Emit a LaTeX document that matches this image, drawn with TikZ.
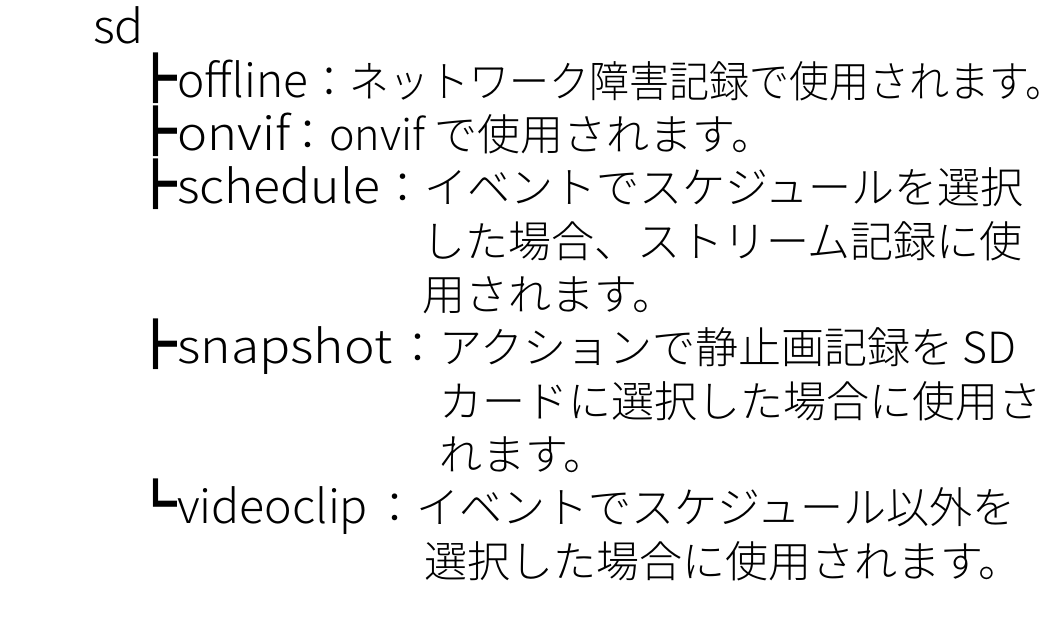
\documentclass[tikz,border=0pt]{standalone}
\usepackage{fontspec}
\usepackage{graphicx}
\usepackage{tikz}
\usetikzlibrary{positioning}
\newfontfamily\jfont{Noto Sans CJK JP}[UprightFont=* Light]
\newfontfamily\jboxfont{Noto Sans CJK JP}
\newcommand{\keyword}[2][1.1]{\scalebox{#1}[1.08]{#2}}
\newcommand{\branch}[1]{\scalebox{1}[1.18]{\jboxfont #1}}

\begin{document}
\begin{tikzpicture}[x=1pt,y=-1pt]
\tikzstyle{entry} =[anchor=base west,inner sep=0pt,font=\jfont\fontsize{43}{53}\selectfont]
\useasboundingbox (0,0) rectangle (1063,638);
\node[entry](sd) at (93,43) {\keyword[1.12]{sd}};

\node[entry](offline) at (134,97) {\branch{┣}\keyword[1.07]{offline}};
\node[entry](offlinetxt) at (309,97) {\scalebox{0.93}[1]{：ネットワーク障害記録で使用されます。}};

\node[entry](onvif) at (134,150) {\branch{┣}\keyword[1.18]{onvif}};
\node[entry](onviftxt) at (286,150) {：onvif で使用されます。};

\node[entry](schedule) at (134,203) {\branch{┣}\keyword[1.16]{schedule}};
\node[entry](scheduletxt) at (381,203) {：イベントでスケジュールを選択};
\node[entry](schedule2) at (422,257) {した場合、ストリーム記録に使};
\node[entry](schedule3) at (422,310) {用されます。};

\node[entry](snapshot) at (134,363) {\branch{┣}\keyword[1.2]{snapshot}};
\node[entry](snapshottxt) at (396,363) {：アクションで静止画記録を SD};
\node[entry](snapshot2) at (439,417) {カードに選択した場合に使用さ};
\node[entry](snapshot3) at (439,470) {れます。};

\node[entry](videoclip) at (134,523) {\branch{┗}\keyword[1.08]{videoclip}};
\node[entry](videocliptxt) at (373,523) {：イベントでスケジュール以外を};
\node[entry](videoclip2) at (424,577) {選択した場合に使用されます。};
\end{tikzpicture}
\end{document}
